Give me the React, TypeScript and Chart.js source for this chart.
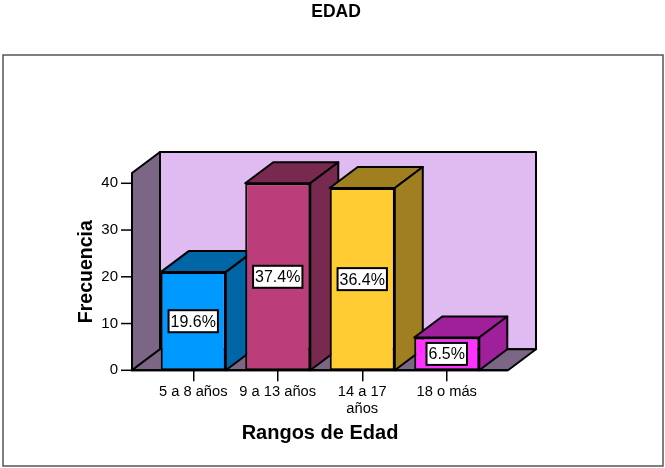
import React, { useEffect, useRef } from "react";
import { Chart, registerables } from "chart.js";

Chart.register(...registerables);

const categories: (string | string[])[] = ["5 a 8 años", "9 a 13 años", ["14 a 17", "años"], "18 o más"];
const frequencies = [21, 40, 39, 7];
const percentLabels = ["19.6%", "37.4%", "36.4%", "6.5%"];
const frontColors = ["#0099FF", "#BB3E7B", "#FFCC33", "#FF33FF"];
const sideColors = ["#0066A6", "#772950", "#A07F20", "#A0209C"];
const FONT = "'Liberation Sans', Arial, sans-serif";
const DX = 28;
const DY = -21;

function poly(ctx: CanvasRenderingContext2D, pts: number[][], fill: string) {
  ctx.beginPath();
  pts.forEach((p, i) => (i ? ctx.lineTo(p[0], p[1]) : ctx.moveTo(p[0], p[1])));
  ctx.closePath();
  ctx.fillStyle = fill;
  ctx.fill();
  ctx.lineWidth = 2;
  ctx.strokeStyle = "#000";
  ctx.lineJoin = "round";
  ctx.stroke();
}

const scene3d = {
  id: "scene3d",
  beforeDraw(chart: any) {
    const ctx = chart.ctx;
    ctx.save();
    ctx.fillStyle = "#fff";
    ctx.fillRect(0, 0, chart.width, chart.height);
    ctx.strokeStyle = "#555";
    ctx.lineWidth = 1.5;
    ctx.strokeRect(3, 55, 660, 411);
    ctx.restore();
  },
  beforeDatasetsDraw(chart: any) {
    const { ctx, chartArea: a, scales } = chart;
    const l = a.left - 19;
    const r = a.right + 19;
    const t = a.top;
    const b = a.bottom;
    ctx.save();
    // back wall, left wall, floor
    poly(ctx, [[l + DX, t + DY], [r + DX, t + DY], [r + DX, b + DY], [l + DX, b + DY]], "#DFBBF2");
    poly(ctx, [[l, t], [l + DX, t + DY], [l + DX, b + DY], [l, b]], "#7B6785");
    poly(ctx, [[l, b], [l + DX, b + DY], [r + DX, b + DY], [r, b]], "#7B6785");
    // axis lines and y ticks
    ctx.strokeStyle = "#000";
    ctx.lineWidth = 2;
    ctx.beginPath();
    ctx.moveTo(l - 1, b);
    ctx.lineTo(r, b);
    ctx.stroke();
    ctx.lineWidth = 1.5;
    scales.y.ticks.forEach((tk: any) => {
      const y = scales.y.getPixelForValue(tk.value);
      ctx.beginPath();
      ctx.moveTo(l - 11, y);
      ctx.lineTo(l, y);
      ctx.stroke();
    });
    // bar depth faces
    chart.getDatasetMeta(0).data.forEach((bar: any, i: number) => {
      const x0 = bar.x - bar.width / 2;
      const x1 = bar.x + bar.width / 2;
      poly(ctx, [[x0, bar.y], [x0 + DX, bar.y + DY], [x1 + DX, bar.y + DY], [x1, bar.y]], sideColors[i]);
      poly(ctx, [[x1, bar.y], [x1 + DX, bar.y + DY], [x1 + DX, bar.base + DY], [x1, bar.base]], sideColors[i]);
    });
    ctx.restore();
  },
  afterDatasetsDraw(chart: any) {
    const ctx = chart.ctx;
    ctx.save();
    ctx.font = `16px ${FONT}`;
    ctx.textAlign = "center";
    ctx.textBaseline = "middle";
    chart.getDatasetMeta(0).data.forEach((bar: any, i: number) => {
      const text = percentLabels[i];
      const w = ctx.measureText(text).width + 4;
      const h = 22;
      const cy = (bar.y + bar.base) / 2;
      ctx.fillStyle = "#fff";
      ctx.fillRect(bar.x - w / 2, cy - h / 2, w, h);
      ctx.strokeStyle = "#000";
      ctx.lineWidth = 2;
      ctx.strokeRect(bar.x - w / 2, cy - h / 2, w, h);
      ctx.fillStyle = "#000";
      ctx.fillText(text, bar.x, cy + 1);
    });
    ctx.restore();
  },
};

export default function App() {
  const ref = useRef<HTMLCanvasElement>(null);
  useEffect(() => {
    const chart = new Chart(ref.current!, {
      type: "bar",
      data: {
        labels: categories as any,
        datasets: [
          {
            label: "Frecuencia",
            data: frequencies,
            backgroundColor: frontColors,
            borderColor: "#000",
            borderWidth: 2,
            borderSkipped: false,
            categoryPercentage: 1,
            barPercentage: 0.77,
          },
        ],
      },
      plugins: [scene3d],
      options: {
        animation: false,
        responsive: false,
        layout: { padding: { left: 7, right: 0, top: 0, bottom: 0 } },
        plugins: {
          legend: { display: false },
          tooltip: { enabled: false },
          title: {
            display: true,
            text: "EDAD",
            color: "#000",
            font: { family: FONT, size: 17.5, weight: "bold" },
            padding: { top: 2, bottom: 150 },
          },
        },
        scales: {
          x: {
            afterFit: (s: any) => {
              s.height = 97.7;
            },
            grid: { drawOnChartArea: false, drawTicks: true, tickLength: 11, color: "#000", lineWidth: 1.5, offset: false },
            border: { display: false },
            ticks: {
              color: "#000",
              font: { family: FONT, size: 14.7, lineHeight: 1.1 },
              padding: 3,
              autoSkip: false,
              maxRotation: 0,
              minRotation: 0,
            },
            title: {
              display: true,
              text: "Rangos de Edad",
              color: "#000",
              font: { family: FONT, size: 20, weight: "bold" },
              padding: { top: 0, bottom: 23 },
            },
          },
          y: {
            min: 0,
            max: 42.2,
            afterFit: (s: any) => {
              s.width = 144;
            },
            grid: { display: false },
            border: { display: false },
            ticks: {
              stepSize: 10,
              includeBounds: false,
              autoSkip: false,
              color: "#000",
              font: { family: FONT, size: 15 },
              padding: 25,
            },
            title: {
              display: true,
              text: "Frecuencia",
              color: "#000",
              font: { family: FONT, size: 19.5, weight: "bold" },
              padding: { top: 68, bottom: 0 },
            },
          },
          yRight: {
            position: "right",
            display: true,
            afterFit: (s: any) => {
              s.width = 176;
            },
            grid: { display: false },
            border: { display: false },
            ticks: { display: false },
          },
        },
      } as any,
    });
    return () => chart.destroy();
  }, []);
  return (
    <div style={{ position: "absolute", left: 0, top: 0 }}>
      <canvas ref={ref} width={665} height={468} style={{ display: "block" }} />
    </div>
  );
}
